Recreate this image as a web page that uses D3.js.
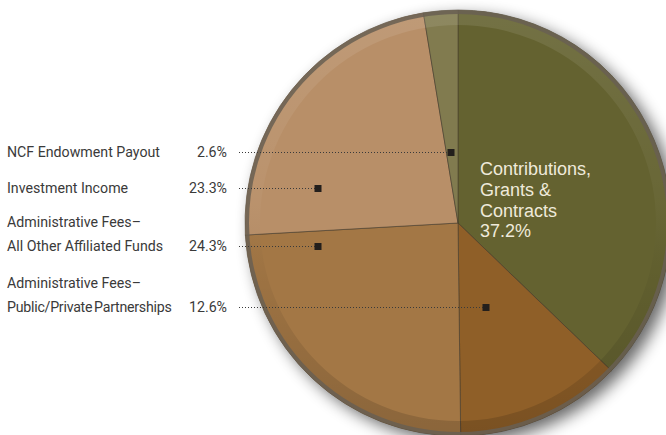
<!DOCTYPE html>
<html>
<head>
<meta charset="utf-8">
<script src="https://cdn.jsdelivr.net/npm/d3@7"></script>
<style>
  html, body { margin: 0; padding: 0; background: #ffffff; }
  svg { display: block; }
</style>
</head>
<body>
<div id="chart"></div>
<script>
// ---- data (clockwise from 12 o'clock) ----
const categories = [
  "Contributions, Grants & Contracts",
  "Administrative Fees– Public/Private Partnerships",
  "Administrative Fees– All Other Affiliated Funds",
  "Investment Income",
  "NCF Endowment Payout"
];
const values = [37.2, 12.6, 24.3, 23.3, 2.6];
const sliceColors = ["#646230", "#8f5f28", "#a37745", "#b88f68", "#817b4f"];

// left-hand legend rows (top to bottom), text lines and percent labels
const legendOrder = [4, 3, 2, 1];
const legendLines = [
  ["NCF Endowment Payout"],
  ["Investment Income"],
  ["Administrative Fees–", "All Other Affiliated Funds"],
  ["Administrative Fees–", "Public/Private Partnerships"]
];
const legendPct = ["2.6%", "23.3%", "24.3%", "12.6%"];
const insideLabelLines = ["Contributions,", "Grants &", "Contracts", "37.2%"];

// ---- layout ----
const W = 666, H = 435;
const cx = 458, cy = 223, R = 213;
const rowY = [152, 188, 246, 307];          // leader line y for each legend row
const anchorX = [451, 318, 318, 486];       // leader end (inside slice)
const pctRight = 227, textLeft = 7, lineGap = 24;
const legendFont = "Roboto, 'Liberation Sans', sans-serif";

const svg = d3.select("#chart").append("svg")
  .attr("width", W).attr("height", H);

const defs = svg.append("defs");
const sh = defs.append("filter").attr("id", "shadow")
  .attr("x", "-20%").attr("y", "-20%").attr("width", "140%").attr("height", "140%");
sh.append("feGaussianBlur").attr("in", "SourceAlpha").attr("stdDeviation", 8).attr("result", "b");
sh.append("feOffset").attr("in", "b").attr("dx", 7).attr("dy", 6).attr("result", "o");
sh.append("feComponentTransfer").attr("in", "o")
  .append("feFuncA").attr("type", "linear").attr("slope", 0.6);

const rimGrad = defs.append("linearGradient").attr("id", "rim")
  .attr("x1", 0).attr("y1", 0).attr("x2", 0).attr("y2", 1);
rimGrad.append("stop").attr("offset", "0%").attr("stop-color", "#ffffff").attr("stop-opacity", 0.10);
rimGrad.append("stop").attr("offset", "45%").attr("stop-color", "#ffffff").attr("stop-opacity", 0.03);
rimGrad.append("stop").attr("offset", "60%").attr("stop-color", "#000000").attr("stop-opacity", 0.03);
rimGrad.append("stop").attr("offset", "100%").attr("stop-color", "#000000").attr("stop-opacity", 0.15);

const g = svg.append("g").attr("transform", `translate(${cx},${cy})`);

// shadow disc
g.append("circle").attr("r", R).attr("fill", "#5a5a66").attr("filter", "url(#shadow)");

const pie = d3.pie().sort(null).value(d => d)(values);
const arc = d3.arc().innerRadius(0).outerRadius(R);

g.selectAll("path.slice").data(pie).join("path")
  .attr("class", "slice")
  .attr("d", arc)
  .attr("fill", (d, i) => sliceColors[i])
  .attr("stroke", "rgba(70,60,45,0.55)")
  .attr("stroke-width", 1);

// bevel band
g.append("path")
  .attr("d", d3.arc().innerRadius(R - 15).outerRadius(R)({startAngle: 0, endAngle: 2 * Math.PI}))
  .attr("fill", "url(#rim)");
// outer rim line
g.append("circle").attr("r", R - 2).attr("fill", "none")
  .attr("stroke", "rgba(105,95,82,0.85)").attr("stroke-width", 4);

// inside label
const inside = svg.append("text")
  .attr("font-family", "'Liberation Sans', Arial, sans-serif")
  .attr("font-size", 18).attr("fill", "#efeadb");
insideLabelLines.forEach((t, i) => {
  inside.append("tspan").attr("x", 480).attr("y", 175 + i * 20.8).text(t);
});

// legend
legendOrder.forEach((si, k) => {
  const y = rowY[k];
  const lines = legendLines[k];
  const lastBase = y + 5;
  lines.forEach((t, j) => {
    const tight = t.indexOf("/") >= 0;
    svg.append("text")
      .attr("x", textLeft)
      .attr("y", lastBase - (lines.length - 1 - j) * lineGap)
      .attr("font-family", legendFont)
      .attr("font-size", 14.2).attr("fill", "#3a3a3a")
      .attr("word-spacing", tight ? -1.5 : 0)
      .attr("letter-spacing", tight ? -0.25 : 0)
      .text(t);
  });
  svg.append("text")
    .attr("x", pctRight).attr("y", lastBase)
    .attr("text-anchor", "end")
    .attr("font-family", legendFont)
    .attr("font-size", 14.2).attr("fill", "#3a3a3a")
    .text(legendPct[k]);
  svg.append("line")
    .attr("x1", 239).attr("x2", anchorX[k])
    .attr("y1", y + 0.5).attr("y2", y + 0.5)
    .attr("stroke", "#3a3a3a").attr("stroke-width", 1)
    .attr("stroke-dasharray", "1,2");
  svg.append("rect")
    .attr("x", anchorX[k] - 3.5).attr("y", y - 3)
    .attr("width", 7).attr("height", 7)
    .attr("fill", "#231f1c");
});
</script>
</body>
</html>
